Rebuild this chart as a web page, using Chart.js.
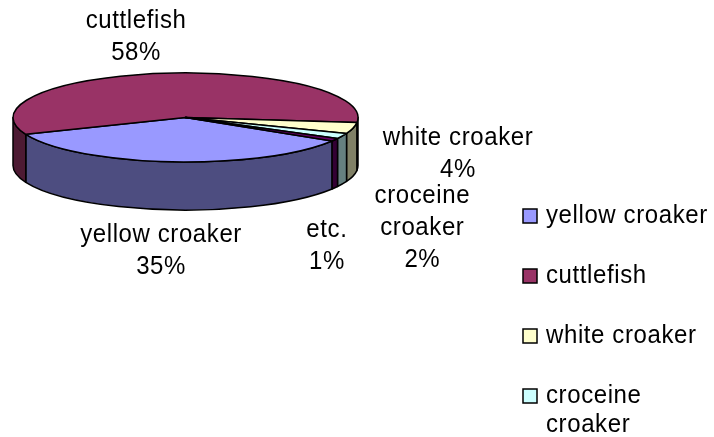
<!DOCTYPE html>
<html>
<head>
<meta charset="utf-8">
<script src="https://cdn.jsdelivr.net/npm/chart.js@4/dist/chart.umd.min.js"></script>
<style>
  html, body { margin: 0; background: #fff; }
  #wrap { width: 714px; height: 437px; }
</style>
</head>
<body>
<div id="wrap"><canvas id="pie" width="714" height="437"></canvas></div>
<script>
const fishNames = ['yellow croaker', 'cuttlefish', 'white croaker', 'croceine croaker', 'etc.'];
const catchShare = [35, 58, 4, 2, 1];
const topColors = ['#9999ff', '#993366', '#ffffcc', '#ccffff', '#660066'];
const sideColors = ['#4d4d80', '#4d1a33', '#808066', '#668080', '#330033'];
const wrappedNames = ['croceine croaker'];
const legendCount = 4; // last entry gets cut off at the bottom

const FONT = '24px "Liberation Sans", Arial, sans-serif';
const textStretch = 1.1;
const squash = 0.258;
const depth = 48;

// label offset from the rim point under each slice's middle
const labelNudge = [[-10, 41], [-26, -37], [105, -22], [80, 44], [-8, 58]];

function lines(name) {
  return wrappedNames.includes(name) ? name.split(' ') : [name];
}

// text drawn a little taller than wide
function tallText(ctx, t, x, y) {
  ctx.save();
  ctx.translate(x, y);
  ctx.scale(1, textStretch);
  ctx.fillText(t, 0, 0);
  ctx.restore();
}

// parts of [s, e] that face the viewer (lower half of the ellipse)
function frontSpans(s, e) {
  const out = [];
  for (let k = -1; k <= 2; k++) {
    const lo = Math.max(s, k * 2 * Math.PI);
    const hi = Math.min(e, k * 2 * Math.PI + Math.PI);
    if (hi > lo) out.push([lo, hi]);
  }
  return out;
}

const pie3d = {
  id: 'pie3d',
  beforeDatasetsDraw(chart) {
    const ctx = chart.ctx;
    const arcs = chart.getDatasetMeta(0).data;
    ctx.save();
    ctx.lineWidth = 1.5;
    ctx.strokeStyle = '#000';
    ctx.lineJoin = 'round';

    // side walls
    arcs.forEach((arc, i) => {
      const { x, y, startAngle, endAngle, outerRadius: r } = arc.getProps(['x', 'y', 'startAngle', 'endAngle', 'outerRadius']);
      const ry = r * squash;
      frontSpans(startAngle, endAngle).forEach(([lo, hi]) => {
        ctx.beginPath();
        ctx.ellipse(x, y, r, ry, 0, lo, hi);
        ctx.ellipse(x, y + depth, r, ry, 0, hi, lo, true);
        ctx.closePath();
        ctx.fillStyle = sideColors[i];
        ctx.fill();
        ctx.stroke();
      });
    });

    // top face
    arcs.forEach((arc, i) => {
      const { x, y, startAngle, endAngle, outerRadius: r } = arc.getProps(['x', 'y', 'startAngle', 'endAngle', 'outerRadius']);
      ctx.beginPath();
      ctx.moveTo(x, y);
      ctx.ellipse(x, y, r, r * squash, 0, startAngle, endAngle);
      ctx.closePath();
      ctx.fillStyle = topColors[i];
      ctx.fill();
      ctx.stroke();
    });
    ctx.restore();
    return false;
  },
  afterDraw(chart) {
    const ctx = chart.ctx;
    const arcs = chart.getDatasetMeta(0).data;
    const total = catchShare.reduce((a, b) => a + b, 0);
    ctx.save();
    ctx.font = FONT;
    ctx.letterSpacing = '0.6px';
    ctx.fillStyle = '#000';
    ctx.textBaseline = 'middle';

    // slice labels
    ctx.textAlign = 'center';
    arcs.forEach((arc, i) => {
      const { x, y, startAngle, endAngle, outerRadius: r } = arc.getProps(['x', 'y', 'startAngle', 'endAngle', 'outerRadius']);
      const mid = (startAngle + endAngle) / 2;
      const px = x + Math.cos(mid) * r;
      let py = y + Math.sin(mid) * r * squash;
      if (Math.sin(mid) > 0) py += depth;
      const txt = lines(fishNames[i]).concat(Math.round(catchShare[i] / total * 100) + '%');
      const cx = px + labelNudge[i][0];
      const cy = py + labelNudge[i][1];
      const top = cy - (txt.length - 1) * 32 / 2;
      txt.forEach((t, j) => tallText(ctx, t, cx, top + j * 32));
    });

    // legend
    ctx.textAlign = 'left';
    for (let i = 0; i < legendCount; i++) {
      const rowY = 216 + i * 60;
      ctx.fillStyle = topColors[i];
      ctx.fillRect(523, rowY - 7, 14, 14);
      ctx.lineWidth = 1.5;
      ctx.strokeStyle = '#000';
      ctx.strokeRect(523, rowY - 7, 14, 14);
      ctx.fillStyle = '#000';
      lines(fishNames[i]).forEach((t, j) => tallText(ctx, t, 546, rowY + j * 29));
    }
    ctx.restore();
  }
};

new Chart(document.getElementById('pie'), {
  type: 'pie',
  data: {
    labels: fishNames,
    datasets: [{
      data: catchShare,
      backgroundColor: topColors,
      borderWidth: 0,
      radius: 172.5
    }]
  },
  options: {
    responsive: false,
    animation: false,
    rotation: 121.8,
    layout: { padding: { left: 13, right: 356, top: 60, bottom: 262 } },
    plugins: {
      legend: { display: false },
      tooltip: { enabled: false }
    }
  },
  plugins: [pie3d]
});
</script>
</body>
</html>
